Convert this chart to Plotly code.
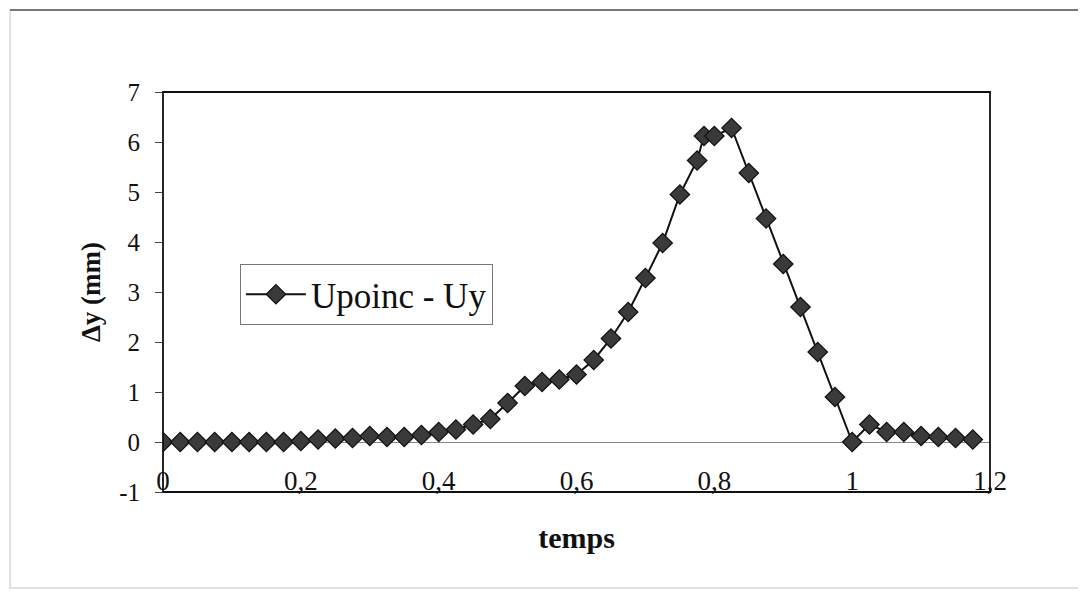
import plotly.graph_objects as go

temps = [0, 0.025, 0.05, 0.075, 0.1, 0.125, 0.15, 0.175, 0.2, 0.225, 0.25, 0.275,
         0.3, 0.325, 0.35, 0.375, 0.4, 0.425, 0.45, 0.475, 0.5, 0.525, 0.55, 0.575,
         0.6, 0.625, 0.65, 0.675, 0.7, 0.725, 0.75, 0.775, 0.785, 0.8, 0.825, 0.85,
         0.875, 0.9, 0.925, 0.95, 0.975, 1.0, 1.025, 1.05, 1.075, 1.1, 1.125, 1.15, 1.175]
delta_y = [0, 0, 0, 0, 0, 0, 0, 0, 0.02, 0.05, 0.07, 0.08,
           0.12, 0.1, 0.1, 0.14, 0.2, 0.25, 0.35, 0.46, 0.78, 1.12, 1.2, 1.25,
           1.35, 1.64, 2.07, 2.6, 3.28, 3.98, 4.95, 5.63, 6.12, 6.12, 6.28, 5.38,
           4.47, 3.56, 2.7, 1.8, 0.9, 0, 0.35, 0.2, 0.2, 0.12, 0.1, 0.08, 0.05]
series_name = "Upoinc - Uy"
x_ticks = [0, 0.2, 0.4, 0.6, 0.8, 1, 1.2]
y_ticks = [-1, 0, 1, 2, 3, 4, 5, 6, 7]

FONT = "Liberation Serif, Times New Roman, serif"

fig = go.Figure()
fig.add_trace(go.Scatter(
    x=temps, y=delta_y, mode="lines+markers", name=series_name,
    line=dict(color="#111111", width=2),
    marker=dict(symbol="diamond", size=15, color="#3a3a3a",
                line=dict(color="#111111", width=1.2)),
))
# invisible trace carrying the free-positioned tick-label axis
fig.add_trace(go.Scatter(x=[x_ticks[0], x_ticks[-1]], y=[None, None], xaxis="x2",
                         showlegend=False, hoverinfo="skip", mode="markers"))

fig.update_layout(
    width=1078, height=587,
    margin=dict(l=155, r=96, t=84, b=103),
    paper_bgcolor="white", plot_bgcolor="white",
    separators=", ",
    font=dict(family=FONT, size=24, color="#111111"),
    showlegend=True,
    legend=dict(x=0.093, y=0.57, xanchor="left", yanchor="top",
                bgcolor="white", bordercolor="#777777", borderwidth=1,
                font=dict(family=FONT, size=35, color="#111111"),
                itemwidth=60, tracegroupgap=0),
    xaxis=dict(range=[0, 1.2], showticklabels=False, automargin=False,
               showgrid=False, zeroline=False, showline=False, ticks="",
               title=dict(text="<b>temps</b>", font=dict(family=FONT, size=30), standoff=34)),
    xaxis2=dict(range=[0, 1.2], overlaying="x", anchor="free", position=0.075,
                tickvals=x_ticks, ticktext=[str(v).replace(".", ",") for v in x_ticks],
                showgrid=False, zeroline=False, showline=False, ticks="",
                automargin=False, tickfont=dict(family=FONT, size=27)),
    yaxis=dict(range=[-1, 7], tickvals=y_ticks, ticktext=[str(v) for v in y_ticks],
               showgrid=False, automargin=False,
               zeroline=True, zerolinecolor="#888888", zerolinewidth=1.2,
               showline=False, ticks="outside", ticklen=7, tickcolor="#444444",
               ticklabelstandoff=10,
               title=dict(text="<b>Δy (mm)</b>", font=dict(family=FONT, size=27), standoff=10),
               tickfont=dict(family=FONT, size=25)),
    yaxis2=dict(range=[-1, 7], tickvals=y_ticks, overlaying="y", side="left",
                showgrid=False, zeroline=False, showline=False, showticklabels=False,
                ticks="inside", ticklen=7, tickcolor="#444444"),
)

# plot area frame
fig.add_shape(type="rect", xref="x domain", yref="y domain", x0=0, x1=1, y0=0, y1=1,
              line=dict(color="#111111", width=1.8), layer="above")
# outer chart border (scan)
fig.add_shape(type="rect", xref="paper", yref="paper", x0=-0.185, x1=1.11,
              y0=-0.24, y1=1.205, line=dict(color="#d8d8d8", width=1.5))
fig.add_shape(type="line", xref="paper", yref="paper", x0=-0.185, x1=1.11,
              y0=1.205, y1=1.205, line=dict(color="#777777", width=2))

fig.write_html("out.html")
